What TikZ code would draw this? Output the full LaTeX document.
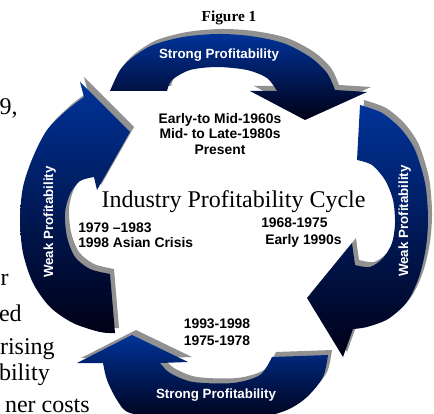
\documentclass[tikz,border=0pt]{standalone}
\usepackage{fontspec}
\setmainfont{Liberation Serif}
\setsansfont{Liberation Sans}

\definecolor{bleu}{RGB}{0,51,153}
\definecolor{nuit}{RGB}{0,0,22}
\definecolor{ombre}{RGB}{145,145,145}

\tikzset{
  fleche/.style={top color=bleu, bottom color=nuit},
  ombrage/.style={fill=ombre, shift={(4,-5)}},
  etiquette/.style={font=\sffamily\bfseries\fontsize{10}{12}\selectfont, white, inner sep=0, anchor=base},
  dates/.style={font=\sffamily\bfseries\fontsize{10.4}{11.6}\selectfont, inner sep=0},
  page/.style={font=\fontsize{18}{20}\selectfont, inner sep=0, anchor=base east},
}

%% contours des quatre fleches
\newcommand{\flechehaut}{plot[smooth] coordinates {(110,91) (120,70) (133,57) (153,45) (183,37) (217,34) (250,36) (283,43) (310,57) (327,73) (335,90)}
  -- (367,92) -- (305,120) -- (250,91)
  -- plot[smooth] coordinates {(277,91) (267,78) (247,70) (217,67) (190,70) (172,80) (167,91)} -- cycle}
\newcommand{\flechedroite}{plot[smooth] coordinates {(360,105) (382,113) (401,129) (415,150) (425,183) (428,217) (426,247) (419,277) (407,302) (388,319) (367,327) (353,329)}
  -- (343,357) -- (307,298) -- (352,243)
  -- plot[smooth] coordinates {(355,265) (370,267) (383,258) (392,243) (395,223) (393,200) (385,180) (372,165) (357,160)} -- cycle}
\newcommand{\flechebas}{plot[smooth] coordinates {(328,355) (323,377) (307,397) (287,410) (255,419) (215,422) (175,419) (130,413) (117,400) (107,380) (103,363)}
  -- (77,363) -- (132,335) -- (188,362)
  -- plot[smooth] coordinates {(160,363) (170,373) (193,382) (233,383) (260,375) (272,357)} -- cycle}
\newcommand{\flechegauche}{plot[smooth] coordinates {(115,333) (100,332) (73,323) (50,307) (33,283) (23,253) (20,220) (23,187) (33,157) (47,130) (67,110) (84,97)}
  -- (80,82) -- (130,132) -- (97,190)
  -- plot[smooth] coordinates {(94,177) (80,181) (70,194) (65,213) (67,237) (75,257) (90,269) (110,274)} -- cycle}

\begin{document}
\begin{tikzpicture}[x=0.75pt,y=-0.75pt]
\useasboundingbox (0,0) rectangle (434,413);
\clip (0,0) rectangle (434,413);

%% texte de la page
\node [page] (p1) at (18,115) {9,};
\node [page] (p2) at (9,285) {r};
\node [page] (p3) at (22,321) {ed};
\node [page] (p4) at (55,354) {rising};
\node [page] (p5) at (50,380) {bility};
\node [page] (p6) at (90,412.5) {ner costs};

%% haut
\fill [ombrage] \flechehaut;
\shade [fleche] \flechehaut;

%% droite
\fill [ombrage] \flechedroite;
\shade [fleche] \flechedroite;

%% bas
\fill [ombrage] \flechebas;
\shade [fleche] \flechebas;

%% gauche
\fill [ombrage] \flechegauche;
\shade [fleche] \flechegauche;

%% titres
\node [font=\bfseries\fontsize{11.5}{13}\selectfont, inner sep=0, anchor=base] (fig) at (229,22) {Figure 1};
\node [font=\fontsize{18}{20}\selectfont, inner sep=0, anchor=base] (cycle) at (233.5,207) {Industry Profitability Cycle};

%% etiquettes des fleches
\node [etiquette] (fort1) at (219,58.5) {Strong Profitability};
\node [etiquette, rotate=90] (faible1) at (408,221) {Weak Profitability};
\node [etiquette] (fort2) at (216,398) {Strong Profitability};
\node [etiquette, rotate=90] (faible2) at (53,222) {Weak Profitability};

%% periodes
\node [dates, anchor=north, align=center] (annees1) at (220,113) {Early-to Mid-1960s\\Mid- to Late-1980s\\Present};
\node [dates, anchor=north west, align=left, font=\sffamily\bfseries\fontsize{10.4}{12.5}\selectfont] (annees2) at (261,218) {1968-1975\\\hspace*{3pt}Early 1990s};
\node [dates, anchor=north, align=center, font=\sffamily\bfseries\fontsize{10.4}{12.5}\selectfont] (annees3) at (217,318.5) {1993-1998\\1975-1978};
\node [dates, anchor=north west, align=left, font=\sffamily\bfseries\fontsize{10.4}{11.25}\selectfont] (annees4) at (78,222.5) {1979 –1983\\1998 Asian Crisis};

\end{tikzpicture}
\end{document}
